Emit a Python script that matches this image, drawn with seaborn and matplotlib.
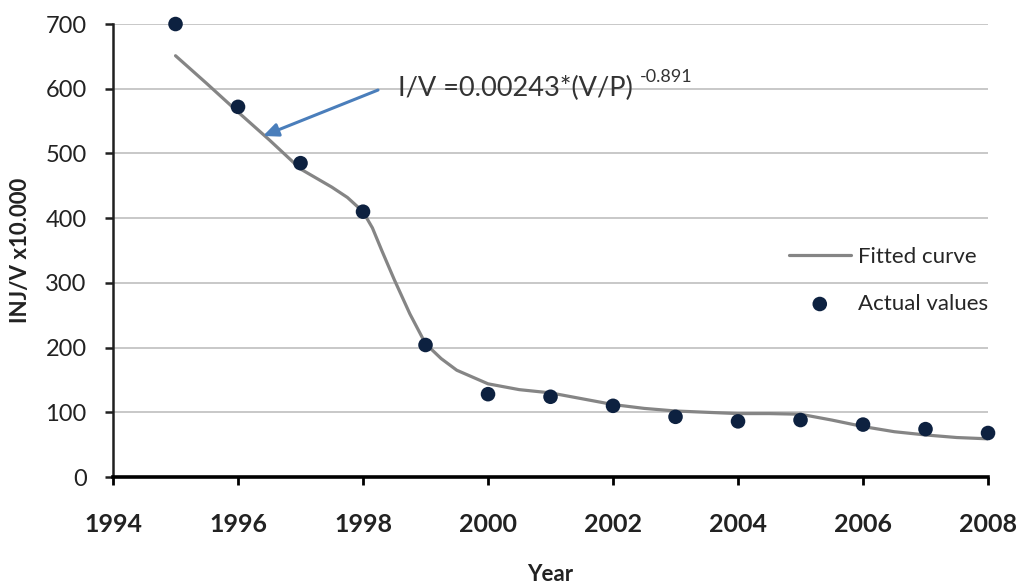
import matplotlib
matplotlib.use("Agg")
import matplotlib.pyplot as plt
import seaborn as sns
import pandas as pd

sns.set_style("white")
plt.rcParams["font.family"] = ["Lato", "DejaVu Sans"]

# actual yearly values (INJ/V x10.000)
years = [1995, 1996, 1997, 1998, 1999, 2000, 2001, 2002, 2003, 2004, 2005, 2006, 2007, 2008]
actual = [700, 572, 485, 410, 204, 128, 124, 110, 93, 86, 88, 81, 74, 68]

# fitted curve at finer steps
fit_years = [1995, 1995.5, 1996, 1996.5, 1997, 1997.5, 1997.75, 1998, 1998.15, 1998.3,
             1998.5, 1998.75, 1999, 1999.25, 1999.5, 2000, 2000.5, 2001, 2001.5, 2002,
             2002.5, 2003, 2003.5, 2004, 2004.5, 2005, 2005.5, 2006, 2006.5, 2007,
             2007.5, 2008]
fit_vals = [651, 608, 564, 521, 476, 448, 432, 410, 385, 350,
            305, 252, 206, 183, 165, 144, 135, 130, 121, 112,
            106, 102, 100, 98, 98, 97, 88, 78, 70, 65,
            61, 59]

x_ticks = [1994, 1996, 1998, 2000, 2002, 2004, 2006, 2008]
y_ticks = [0, 100, 200, 300, 400, 500, 600, 700]

equation = "I/V =0.00243*(V/P)"
exponent = "-0.891"

df_act = pd.DataFrame({"year": years, "value": actual})
df_fit = pd.DataFrame({"year": fit_years, "value": fit_vals})

fig = plt.figure(figsize=(10.21, 5.86), dpi=100)
ax = fig.add_axes([0.1107, 0.186, 0.857, 0.773])

sns.lineplot(data=df_fit, x="year", y="value", ax=ax, color="#858585",
             linewidth=2.3, label="Fitted curve")
sns.scatterplot(data=df_act, x="year", y="value", ax=ax, color="#0d2140",
                s=110, edgecolor="none", label="Actual values", clip_on=False, zorder=5)

ax.set_xlim(1994, 2008)
ax.set_ylim(0, 700)
ax.set_xticks(x_ticks)
ax.set_yticks(y_ticks)
ax.yaxis.grid(True, color="#c4c4c4", linewidth=1.3)
ax.xaxis.grid(False)
ax.set_axisbelow(True)

for s in ["top", "right"]:
    ax.spines[s].set_visible(False)
ax.spines["left"].set_color("#202020")
ax.spines["left"].set_linewidth(1.8)
ax.spines["bottom"].set_color("black")
ax.spines["bottom"].set_linewidth(2.6)

ax.tick_params(axis="y", direction="out", length=6, width=1.8, color="#202020",
               pad=13, labelsize=17, labelcolor="#222222", left=True)
ax.tick_params(axis="x", direction="out", length=6, width=2, color="black",
               pad=20, labelsize=18, labelcolor="#222222", bottom=True)
for t in ax.get_xticklabels():
    t.set_fontweight("bold")

ax.set_xlabel("Year", fontsize=16, fontweight="bold", labelpad=20, color="#222222")
ax.set_ylabel("INJ/V x10.000", fontsize=16, fontweight="bold", labelpad=10, color="#222222")

txt = ax.text(1998.56, 601, equation, fontsize=19.5, color="#333333", va="center", ha="left")
ax.annotate(exponent, xy=(1.0, 0.95), xycoords=txt, xytext=(5, 0),
            textcoords="offset points", fontsize=13, color="#333333", va="center", ha="left")
ax.annotate("", xy=(1996.4, 527), xytext=(1998.24, 598),
            arrowprops=dict(arrowstyle="-|>,head_length=0.9,head_width=0.4",
                            color="#4a7ebb", linewidth=2.2, shrinkA=0, shrinkB=0))

ax.legend(loc="upper left", bbox_to_anchor=(0.762, 0.527), frameon=False, fontsize=16,
          handlelength=2.8, handletextpad=0.3, labelspacing=1.2, borderaxespad=0)

fig.savefig("out.png", dpi=100)
